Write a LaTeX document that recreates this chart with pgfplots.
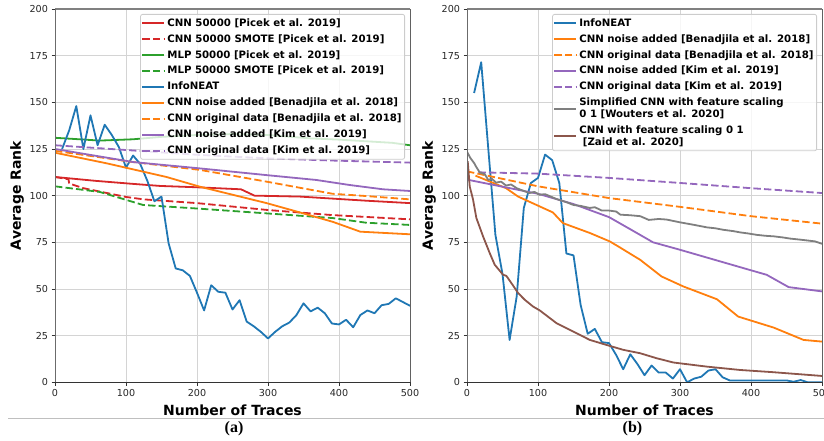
\documentclass[border=0pt]{standalone}
\usepackage{fontspec}
\setmainfont{DejaVu Sans}
\newfontfamily\capfont{Liberation Serif}
\usepackage{pgfplots}
\pgfplotsset{compat=1.18}
\definecolor{tblue}{HTML}{1F77B4}
\definecolor{torange}{HTML}{FF7F0E}
\definecolor{tgreen}{HTML}{2CA02C}
\definecolor{tred}{HTML}{D62728}
\definecolor{tpurple}{HTML}{9467BD}
\definecolor{tbrown}{HTML}{8C564B}
\definecolor{tgray}{HTML}{7F7F7F}
\pgfplotsset{
  base/.style={
    scale only axis, width=355pt, height=373.3pt, anchor=south west,
    xmin=0, xmax=500, ymin=0, ymax=200,
    xtick={0,100,...,500}, ytick={0,25,...,200},
    grid=major, grid style={color=black!17, line width=0.9pt},
    tick align=outside, tick pos=left, major tick length=3.5pt,
    tick style={color=black!80, line width=0.9pt},
    ticklabel style={font=\fontsize{9.6}{11}\selectfont, color=black!85},
    /pgf/number format/assume math mode=true,
    axis line style={draw=none},
    xlabel={Number of Traces}, ylabel={Average Rank},
    label style={font=\fontsize{14}{16}\selectfont\bfseries},
    xlabel style={at={(axis description cs:0.5,-0.0761)}, anchor=center},
    ylabel style={at={(axis description cs:-0.107,0.5)}, anchor=center},
    every axis plot/.append style={line width=1.8pt, line join=round},
    legend cell align=left,
    legend style={at={(1,1)}, anchor=north east, xshift=-5pt, yshift=-5pt,
      draw=black!20, line width=0.8pt, rounded corners=2pt,
      fill=white, fill opacity=0.8, text opacity=1,
      font=\fontsize{10.2}{11.7}\selectfont\bfseries,
      cells={anchor=west, align=left},
      inner xsep=1pt, inner ysep=2pt, row sep=2.7pt},
    legend image code/.code={\draw[#1] (0pt,0pt) -- (22pt,0pt);},
    after end axis/.code={
      \draw[color=black!50, line width=1.8pt] (rel axis cs:0,1) -- (rel axis cs:1,1);
      \draw[color=black!58, line width=1pt] (rel axis cs:0,0) -- (rel axis cs:0,1);
      \draw[color=black!62, line width=1pt] (rel axis cs:1,0) -- (rel axis cs:1,1);
      \draw[color=black!80, line width=1.2pt] (rel axis cs:0,0) -- (rel axis cs:1,0);
    },
  },
  dsh/.style={dash pattern=on 7.4pt off 3.2pt},
}
\begin{document}
\begin{tikzpicture}
\begin{axis}[base, at={(55pt,58.7pt)}]
\addplot[tred] coordinates {(0,110) (58,107.9) (110,106.3) (148,105.2) (199,104.5) (262,103.4) (281,100) (345,99.5) (438,97.3) (500,96)};
\addlegendentry{CNN 50000 [Picek et al. 2019]}
\addplot[tred, dsh] coordinates {(0,110) (19,108.8) (20,106.5) (40,104) (100,99.3) (125,98) (200,96) (300,92.3) (390,89.6) (500,87.3)};
\addlegendentry{CNN 50000 SMOTE [Picek et al. 2019]}
\addplot[tgreen] coordinates {(0,131) (30,130.3) (63,129.5) (110,130.2) (150,131.5) (200,132.5) (250,133) (300,132.5) (359,130.7) (400,130) (475,128.3) (500,127)};
\addlegendentry{MLP 50000 [Picek et al. 2019]}
\addplot[tgreen, dsh] coordinates {(0,105) (63,102) (124,95) (204,93) (298,90.5) (391,88) (438,85.5) (500,84.3)};
\addlegendentry{MLP 50000 SMOTE [Picek et al. 2019]}
\addplot[tblue] coordinates {(10,125) (20,135) (30,148) (40,125) (50,143) (60,127) (70,138) (80,132.5) (90,126) (100,115) (110,121.5) (120,117) (130,108) (140,97) (150,99.5) (160,74.5) (170,61) (180,60) (190,57) (200,48) (210,38.5) (220,52) (230,48.5) (240,48) (250,39) (260,44) (270,32.5) (280,30) (290,27) (300,23.5) (310,27) (320,30) (330,32) (340,36) (350,42.3) (360,38) (370,40) (380,37) (390,31.5) (400,31) (410,33.5) (420,29.5) (430,36) (440,38.5) (450,37) (460,41.3) (470,42) (480,45) (490,43) (500,41)};
\addlegendentry{InfoNEAT}
\addplot[torange] coordinates {(0,123) (73,117.3) (157,110) (204,104.8) (251,100.4) (298,96) (345,91) (391,86) (430,80.7) (500,79.3)};
\addlegendentry{CNN noise added [Benadjila et al. 2018]}
\addplot[torange, dsh] coordinates {(0,124) (110,118) (204,113.8) (298,107.5) (391,101) (438,99.8) (500,98)};
\addlegendentry{CNN original data [Benadjila et al. 2018]}
\addplot[tpurple] coordinates {(0,125) (110,118) (204,114.6) (298,111) (368,108.4) (415,105.7) (462,103.4) (500,102.5)};
\addlegendentry{CNN noise added [Kim et al. 2019]}
\addplot[tpurple, dsh] coordinates {(0,127) (204,121.8) (298,120) (391,118.8) (500,117.7)};
\addlegendentry{CNN original data [Kim et al. 2019]}
\end{axis}
\begin{axis}[base, at={(467pt,58.7pt)}]
\addplot[tblue] coordinates {(10,155) (20,171.5) (30,125) (40,79) (50,58) (60,22.7) (70,46) (80,93.4) (90,106.8) (100,109.5) (110,122) (120,119) (130,106.8) (140,69) (150,68) (160,41.5) (170,26) (180,28.6) (190,21.5) (200,21) (210,14.7) (220,7) (230,15) (240,9.8) (250,3.8) (260,9) (270,5.2) (280,5.2) (290,2) (300,7) (310,0) (320,2) (330,3) (340,6.3) (350,7) (360,2.7) (370,1) (380,1) (390,1) (400,1) (410,1) (420,1) (430,1) (440,1) (450,1) (460,0.3) (470,1.2) (480,0) (490,0) (500,0)};
\addlegendentry{InfoNEAT}
\addplot[torange] coordinates {(12,110.7) (55,104) (72,99.5) (121,91) (135,85.3) (173,80) (201,75.5) (213,72.8) (244,65.6) (274,56.7) (305,51.3) (352,44.5) (382,35.2) (432,29.3) (474,22.7) (500,21.8)};
\addlegendentry{CNN noise added [Benadjila et al. 2018]}
\addplot[torange, dsh] coordinates {(0,113) (100,105) (200,98.7) (300,94) (400,89) (500,85)};
\addlegendentry{CNN original data [Benadjila et al. 2018]}
\addplot[tpurple] coordinates {(0,108.6) (100,101) (150,95.5) (200,88.5) (230,82) (262,75) (300,71) (400,60) (422,57.6) (453,51) (500,48.7)};
\addlegendentry{CNN noise added [Kim et al. 2019]}
\addplot[tpurple, dsh] coordinates {(16,112.5) (100,111.8) (200,109.5) (300,106.8) (400,104) (500,101.4)};
\addlegendentry{CNN original data [Kim et al. 2019]}
\addplot[tgray] coordinates {(0,123.5) (5,120) (10,117.5) (13,115.4) (18,112.4) (25,111.5) (30,108.4) (35,109) (41,107) (48,107.5) (55,105.4) (62,106) (70,104) (80,102.5) (88,101.4) (95,102) (102,100.5) (110,100.8) (126,98.2) (140,96.5) (150,95) (160,94.5) (173,93.4) (180,93.8) (190,92) (200,92) (210,91.5) (216,89.8) (230,89.5) (244,89) (250,88) (256,87) (270,87.5) (281,87.2) (300,85.7) (319,84.4) (338,83) (350,82.5) (361,81.7) (375,81) (385,80.3) (395,79.8) (408,79) (420,78.5) (432,78.2) (445,77.6) (455,77) (470,76.4) (479,76) (490,75.5) (500,74.2)};
\addlegendentry{Simplified CNN with feature scaling\\0 1 [Wouters et al. 2020]}
\addplot[tbrown] coordinates {(1,118.5) (3.8,105) (8.5,97.9) (13.2,88) (22.6,78.2) (32,69.2) (39,63) (50.8,57.6) (55.5,57) (62.6,53.1) (72,47.8) (81.4,44.2) (93,40.6) (102.5,38.5) (126,31.7) (149.6,27.2) (173,22.7) (196.6,20) (220,17.4) (243.6,15.6) (267,12.9) (290.7,10.6) (337.7,8.4) (384.8,6.6) (431.8,5.4) (500,3.4)};
\addlegendentry{CNN with feature scaling 0 1\\~[Zaid et al. 2020]}
\end{axis}
\draw[black!25, line width=0.9pt] (8pt,23pt) -- (824pt,23pt);
\node[font=\capfont\bfseries\fontsize{16}{18}\selectfont] at (234pt,12pt) {(a)};
\node[font=\capfont\bfseries\fontsize{16}{18}\selectfont] at (632.5pt,12pt) {(b)};
\pgfresetboundingbox
\path[use as bounding box] (0,0) rectangle (824pt,441pt);
\end{tikzpicture}
\end{document}
